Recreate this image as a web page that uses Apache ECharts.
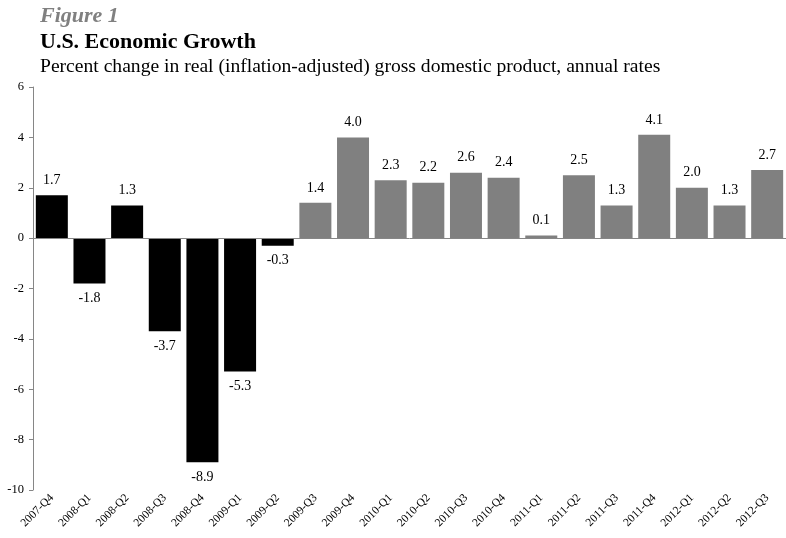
<!DOCTYPE html>
<html>
<head>
<meta charset="utf-8">
<script src="https://cdn.jsdelivr.net/npm/echarts@6/dist/echarts.min.js"></script>
<style>
  html, body { margin: 0; padding: 0; background: #fff; }
  #main { width: 786px; height: 538px; }
</style>
</head>
<body>
<div id="main"></div>
<script>
// quarters and GDP growth (annualized %)
var quarters = ["2007-Q4", "2008-Q1", "2008-Q2", "2008-Q3", "2008-Q4", "2009-Q1", "2009-Q2",
  "2009-Q3", "2009-Q4", "2010-Q1", "2010-Q2", "2010-Q3", "2010-Q4", "2011-Q1", "2011-Q2",
  "2011-Q3", "2011-Q4", "2012-Q1", "2012-Q2", "2012-Q3"];
var growth = [1.7, -1.8, 1.3, -3.7, -8.9, -5.3, -0.3, 1.4, 4.0, 2.3, 2.2, 2.6, 2.4, 0.1, 2.5,
  1.3, 4.1, 2.0, 1.3, 2.7];
var recessionEnd = 7; // bars before this index are black
var yTicks = [-10, 6, 2];

var chart = echarts.init(document.getElementById("main"));
var serif = "Liberation Serif";

var barData = growth.map(function (v, i) {
  return {
    value: v,
    itemStyle: { color: i < recessionEnd ? "#000000" : "#808080" },
    label: { position: v >= 0 ? "top" : "bottom" }
  };
});

var option = {
  animation: false,
  backgroundColor: "#ffffff",
  title: [
    {
      text: "Figure 1",
      left: 35, top: 0,
      textStyle: { fontFamily: serif, fontSize: 22, fontStyle: "italic", fontWeight: "bold", color: "#808080" }
    },
    {
      text: "U.S. Economic Growth",
      left: 35, top: 26,
      textStyle: { fontFamily: serif, fontSize: 22, fontWeight: "bold", color: "#000" }
    },
    {
      text: "Percent change in real (inflation-adjusted) gross domestic product, annual rates",
      left: 35, top: 52,
      textStyle: { fontFamily: serif, fontSize: 19.6, fontWeight: "normal", color: "#000" }
    }
  ],
  grid: { left: 33, right: -3, top: 87, bottom: 48, containLabel: false },
  xAxis: {
    type: "category",
    data: quarters,
    axisLine: { show: false, onZero: false },
    axisTick: { show: false },
    axisLabel: {
      rotate: 45, interval: 0, margin: 6,
      fontFamily: serif, fontSize: 11.5, color: "#000"
    }
  },
  yAxis: {
    type: "value",
    min: yTicks[0], max: yTicks[1], interval: yTicks[2],
    splitLine: { show: false },
    axisLine: { show: true, lineStyle: { color: "#868686" } },
    axisTick: { show: true, length: 4, lineStyle: { color: "#868686" } },
    axisLabel: { fontFamily: serif, fontSize: 12.5, color: "#000", margin: 9 }
  },
  series: [
    {
      type: "bar",
      data: barData,
      barCategoryGap: "15%",
      label: {
        show: true,
        fontFamily: serif, fontSize: 14, color: "#000", distance: 8,
        formatter: function (p) { return p.value.toFixed(1); }
      },
      markLine: {
        silent: true,
        symbol: "none",
        label: { show: false },
        lineStyle: { color: "#868686", type: "solid", width: 1 },
        data: [{ yAxis: 0 }]
      }
    }
  ]
};

chart.setOption(option);
</script>
</body>
</html>
